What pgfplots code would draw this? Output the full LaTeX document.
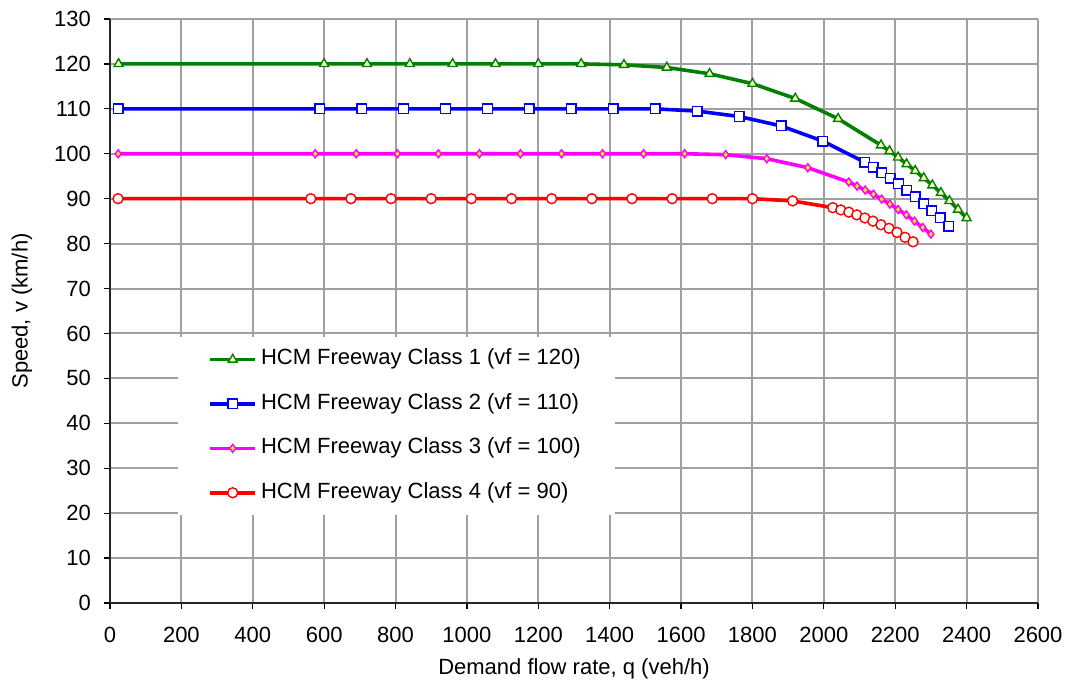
\documentclass[border=0pt]{standalone}
\usepackage{fontspec}
\setmainfont{Liberation Sans}
\usepackage{pgfplots}
\pgfplotsset{compat=1.18}
\definecolor{cgreen}{RGB}{0,128,0}
\definecolor{cblue}{RGB}{0,0,255}
\definecolor{cmag}{RGB}{255,0,255}
\definecolor{cred}{RGB}{255,0,0}
\definecolor{cgrid}{RGB}{160,160,160}
\begin{document}
\begin{tikzpicture}
\useasboundingbox (-55pt,-42.5pt) rectangle (478.5pt,301.5pt);
\begin{axis}[
  scale only axis, width=464pt, height=292pt,
  xmin=0, xmax=2600, ymin=0, ymax=130,
  xtick={0,200,...,2600}, ytick={0,10,...,130},
  axis lines*=left, axis line style={-,line width=1pt,black!85},
  tick align=outside, major tick length=3pt,
  tick style={black, line width=0.6pt},
  grid=major, major grid style={cgrid, line width=1pt},
  /pgf/number format/assume math mode=true,
  /pgf/number format/1000 sep={},
  ticklabel style={font=\fontsize{11}{13}\selectfont},
  xticklabel style={yshift=-5.5pt},
  yticklabel style={xshift=-3pt},
  xlabel={Demand flow rate, q (veh/h)},
  ylabel={Speed, v (km/h)},
  label style={font=\fontsize{11}{13}\selectfont},
  x label style={at={(axis description cs:0.5,0)}, anchor=center, yshift=-33pt},
  y label style={at={(axis description cs:-0.0948,0.5)}, anchor=center},
  legend style={at={(rel axis cs:0.0733,0.4555)}, anchor=north west, draw=none, fill=white,
    font=\fontsize{11}{13}\selectfont, inner xsep=15pt, inner ysep=4pt, row sep=8pt,
    nodes={inner sep=2pt, text height=7.8pt, text depth=2.4pt}},
  legend cell align=left,
  legend image code/.code={\draw[mark repeat=2,mark phase=2,#1] plot coordinates {(0pt,0pt) (11.25pt,0pt) (22.5pt,0pt)};},
  every axis plot/.append style={line width=1.8pt},
]
\addplot[cgreen, mark=triangle*, mark size=2.6pt, mark options={fill=yellow!25!white, line width=0.7pt, draw=cgreen}] coordinates {
(24,120) (600,120) (720,120) (840,120) (960,120) (1080,120) (1200,120) (1320,120) (1440,119.8)
(1560,119.2) (1680,117.8) (1800,115.6) (1920,112.3) (2040,107.8) (2160,101.9) (2184,100.6)
(2208,99.2) (2232,97.7) (2256,96.2) (2280,94.6) (2304,93.0) (2328,91.3) (2352,89.5) (2376,87.6) (2400,85.7)};
\addlegendentry{HCM Freeway Class 1 (vf = 120)}
\addplot[cblue, mark=square*, mark size=2.4pt, mark options={fill=white, line width=0.7pt, draw=cblue}] coordinates {
(23.5,110) (587.5,110) (705,110) (822.5,110) (940,110) (1057.5,110) (1175,110) (1292.5,110) (1410,110)
(1527.5,110.0) (1645,109.5) (1762.5,108.3) (1880,106.2) (1997.5,102.8) (2115,98.1) (2138.5,97.0)
(2162,95.8) (2185.5,94.6) (2209,93.3) (2232.5,91.9) (2256,90.4) (2279.5,88.9) (2303,87.3) (2326.5,85.7) (2350,83.9)};
\addlegendentry{HCM Freeway Class 2 (vf = 110)}
\addplot[cmag, mark=diamond*, mark size=2pt, mark options={fill=yellow, line width=0.7pt, draw=cmag}] coordinates {
(23,100) (575,100) (690,100) (805,100) (920,100) (1035,100) (1150,100) (1265,100) (1380,100)
(1495,100) (1610,100) (1725,99.8) (1840,98.9) (1955,96.9) (2070,93.7) (2093,92.8) (2116,91.9)
(2139,91.0) (2162,89.9) (2185,88.8) (2208,87.6) (2231,86.4) (2254,85.0) (2277,83.6) (2300,82.1)};
\addlegendentry{HCM Freeway Class 3 (vf = 100)}
\addplot[cred, mark=*, mark size=2.5pt, mark options={fill=white, line width=0.7pt, draw=cred}] coordinates {
(22.5,90) (562.5,90) (675,90) (787.5,90) (900,90) (1012.5,90) (1125,90) (1237.5,90) (1350,90)
(1462.5,90) (1575,90) (1687.5,90) (1800,90.0) (1912.5,89.5) (2025,88.0) (2047.5,87.5) (2070,87.0)
(2092.5,86.4) (2115,85.7) (2137.5,85.0) (2160,84.2) (2182.5,83.4) (2205,82.5) (2227.5,81.4) (2250,80.4)};
\addlegendentry{HCM Freeway Class 4 (vf = 90)}
\end{axis}
\end{tikzpicture}
\end{document}
